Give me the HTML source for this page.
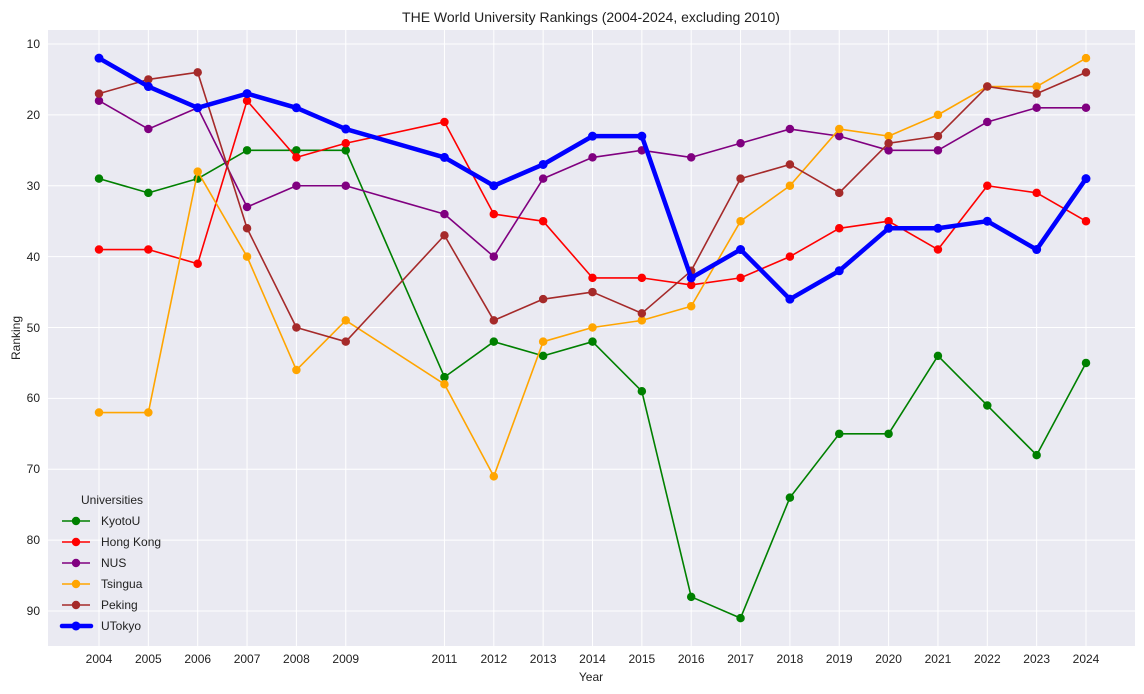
<!DOCTYPE html>
<html><head><meta charset="utf-8"><style>
html,body{margin:0;padding:0;background:#fff;}
svg{display:block;font-family:"Liberation Sans","DejaVu Sans",sans-serif;}
</style></head><body>
<svg width="1144" height="694" viewBox="0 0 1144 694" xmlns="http://www.w3.org/2000/svg">
<rect x="48" y="30" width="1087" height="616" fill="#eaeaf2"/>
<g stroke="#fff" stroke-width="1">
<line x1="99" y1="30" x2="99" y2="646"/><line x1="148.35" y1="30" x2="148.35" y2="646"/><line x1="197.7" y1="30" x2="197.7" y2="646"/><line x1="247.05" y1="30" x2="247.05" y2="646"/><line x1="296.4" y1="30" x2="296.4" y2="646"/><line x1="345.75" y1="30" x2="345.75" y2="646"/><line x1="444.45" y1="30" x2="444.45" y2="646"/><line x1="493.8" y1="30" x2="493.8" y2="646"/><line x1="543.15" y1="30" x2="543.15" y2="646"/><line x1="592.5" y1="30" x2="592.5" y2="646"/><line x1="641.85" y1="30" x2="641.85" y2="646"/><line x1="691.2" y1="30" x2="691.2" y2="646"/><line x1="740.55" y1="30" x2="740.55" y2="646"/><line x1="789.9" y1="30" x2="789.9" y2="646"/><line x1="839.25" y1="30" x2="839.25" y2="646"/><line x1="888.6" y1="30" x2="888.6" y2="646"/><line x1="937.95" y1="30" x2="937.95" y2="646"/><line x1="987.3" y1="30" x2="987.3" y2="646"/><line x1="1036.65" y1="30" x2="1036.65" y2="646"/><line x1="1086" y1="30" x2="1086" y2="646"/>
<line x1="48" y1="44" x2="1135" y2="44"/><line x1="48" y1="114.9" x2="1135" y2="114.9"/><line x1="48" y1="185.8" x2="1135" y2="185.8"/><line x1="48" y1="256.6" x2="1135" y2="256.6"/><line x1="48" y1="327.5" x2="1135" y2="327.5"/><line x1="48" y1="398.4" x2="1135" y2="398.4"/><line x1="48" y1="469.3" x2="1135" y2="469.3"/><line x1="48" y1="540.1" x2="1135" y2="540.1"/><line x1="48" y1="611" x2="1135" y2="611"/>
</g>
<g font-size="12" fill="#222" text-anchor="end">
<text x="40" y="48">10</text><text x="40" y="119">20</text><text x="40" y="190">30</text><text x="40" y="261">40</text><text x="40" y="332">50</text><text x="40" y="402">60</text><text x="40" y="473">70</text><text x="40" y="544">80</text><text x="40" y="615">90</text>
</g>
<g font-size="12" fill="#222" text-anchor="middle">
<text x="99" y="663">2004</text><text x="148.35" y="663">2005</text><text x="197.7" y="663">2006</text><text x="247.05" y="663">2007</text><text x="296.4" y="663">2008</text><text x="345.75" y="663">2009</text><text x="444.45" y="663">2011</text><text x="493.8" y="663">2012</text><text x="543.15" y="663">2013</text><text x="592.5" y="663">2014</text><text x="641.85" y="663">2015</text><text x="691.2" y="663">2016</text><text x="740.55" y="663">2017</text><text x="789.9" y="663">2018</text><text x="839.25" y="663">2019</text><text x="888.6" y="663">2020</text><text x="937.95" y="663">2021</text><text x="987.3" y="663">2022</text><text x="1036.65" y="663">2023</text><text x="1086" y="663">2024</text>
<text x="591" y="681" font-size="12">Year</text>
<text x="591" y="22" font-size="14">THE World University Rankings (2004-2024, excluding 2010)</text>
<text transform="translate(20,338) rotate(-90)" font-size="12">Ranking</text>
</g>
<g transform="translate(99,44) scale(49.35,7.0875)" fill="none" stroke-linejoin="round">
<g stroke="green">
<polyline vector-effect="non-scaling-stroke" stroke-width="1.6" points="0,19 1,21 2,19 3,15 4,15 5,15 7,47 8,42 9,44 10,42 11,49 12,78 13,81 14,64 15,55 16,55 17,44 18,51 19,58 20,45"/>
<path vector-effect="non-scaling-stroke" stroke-width="8.5" stroke-linecap="round" d="M0 19l0 0M1 21l0 0M2 19l0 0M3 15l0 0M4 15l0 0M5 15l0 0M7 47l0 0M8 42l0 0M9 44l0 0M10 42l0 0M11 49l0 0M12 78l0 0M13 81l0 0M14 64l0 0M15 55l0 0M16 55l0 0M17 44l0 0M18 51l0 0M19 58l0 0M20 45l0 0"/>
</g>
<g stroke="red">
<polyline vector-effect="non-scaling-stroke" stroke-width="1.6" points="0,29 1,29 2,31 3,8 4,16 5,14 7,11 8,24 9,25 10,33 11,33 12,34 13,33 14,30 15,26 16,25 17,29 18,20 19,21 20,25"/>
<path vector-effect="non-scaling-stroke" stroke-width="8.5" stroke-linecap="round" d="M0 29l0 0M1 29l0 0M2 31l0 0M3 8l0 0M4 16l0 0M5 14l0 0M7 11l0 0M8 24l0 0M9 25l0 0M10 33l0 0M11 33l0 0M12 34l0 0M13 33l0 0M14 30l0 0M15 26l0 0M16 25l0 0M17 29l0 0M18 20l0 0M19 21l0 0M20 25l0 0"/>
</g>
<g stroke="purple">
<polyline vector-effect="non-scaling-stroke" stroke-width="1.6" points="0,8 1,12 2,9 3,23 4,20 5,20 7,24 8,30 9,19 10,16 11,15 12,16 13,14 14,12 15,13 16,15 17,15 18,11 19,9 20,9"/>
<path vector-effect="non-scaling-stroke" stroke-width="8.5" stroke-linecap="round" d="M0 8l0 0M1 12l0 0M2 9l0 0M3 23l0 0M4 20l0 0M5 20l0 0M7 24l0 0M8 30l0 0M9 19l0 0M10 16l0 0M11 15l0 0M12 16l0 0M13 14l0 0M14 12l0 0M15 13l0 0M16 15l0 0M17 15l0 0M18 11l0 0M19 9l0 0M20 9l0 0"/>
</g>
<g stroke="orange">
<polyline vector-effect="non-scaling-stroke" stroke-width="1.6" points="0,52 1,52 2,18 3,30 4,46 5,39 7,48 8,61 9,42 10,40 11,39 12,37 13,25 14,20 15,12 16,13 17,10 18,6 19,6 20,2"/>
<path vector-effect="non-scaling-stroke" stroke-width="8.5" stroke-linecap="round" d="M0 52l0 0M1 52l0 0M2 18l0 0M3 30l0 0M4 46l0 0M5 39l0 0M7 48l0 0M8 61l0 0M9 42l0 0M10 40l0 0M11 39l0 0M12 37l0 0M13 25l0 0M14 20l0 0M15 12l0 0M16 13l0 0M17 10l0 0M18 6l0 0M19 6l0 0M20 2l0 0"/>
</g>
<g stroke="#a52a2a">
<polyline vector-effect="non-scaling-stroke" stroke-width="1.6" points="0,7 1,5 2,4 3,26 4,40 5,42 7,27 8,39 9,36 10,35 11,38 12,32 13,19 14,17 15,21 16,14 17,13 18,6 19,7 20,4"/>
<path vector-effect="non-scaling-stroke" stroke-width="8.5" stroke-linecap="round" d="M0 7l0 0M1 5l0 0M2 4l0 0M3 26l0 0M4 40l0 0M5 42l0 0M7 27l0 0M8 39l0 0M9 36l0 0M10 35l0 0M11 38l0 0M12 32l0 0M13 19l0 0M14 17l0 0M15 21l0 0M16 14l0 0M17 13l0 0M18 6l0 0M19 7l0 0M20 4l0 0"/>
</g>
<g stroke="blue">
<polyline vector-effect="non-scaling-stroke" stroke-width="4.5" points="0,2 1,6 2,9 3,7 4,9 5,12 7,16 8,20 9,17 10,13 11,13 12,33 13,29 14,36 15,32 16,26 17,26 18,25 19,29 20,19"/>
<path vector-effect="non-scaling-stroke" stroke-width="9" stroke-linecap="round" d="M0 2l0 0M1 6l0 0M2 9l0 0M3 7l0 0M4 9l0 0M5 12l0 0M7 16l0 0M8 20l0 0M9 17l0 0M10 13l0 0M11 13l0 0M12 33l0 0M13 29l0 0M14 36l0 0M15 32l0 0M16 26l0 0M17 26l0 0M18 25l0 0M19 29l0 0M20 19l0 0"/>
</g>
</g>
<g font-size="12" fill="#222">
<text x="81" y="504">Universities</text>
<line x1="62" y1="521" x2="90" y2="521" stroke="green" stroke-width="1.6"/><circle cx="76" cy="521" r="4.2" fill="green"/><text x="101" y="525">KyotoU</text>
<line x1="62" y1="542" x2="90" y2="542" stroke="red" stroke-width="1.6"/><circle cx="76" cy="542" r="4.2" fill="red"/><text x="101" y="546">Hong Kong</text>
<line x1="62" y1="563" x2="90" y2="563" stroke="purple" stroke-width="1.6"/><circle cx="76" cy="563" r="4.2" fill="purple"/><text x="101" y="567">NUS</text>
<line x1="62" y1="584" x2="90" y2="584" stroke="orange" stroke-width="1.6"/><circle cx="76" cy="584" r="4.2" fill="orange"/><text x="101" y="588">Tsingua</text>
<line x1="62" y1="605" x2="90" y2="605" stroke="#a52a2a" stroke-width="1.6"/><circle cx="76" cy="605" r="4.2" fill="#a52a2a"/><text x="101" y="609">Peking</text>
<line x1="62" y1="626" x2="91" y2="626" stroke="blue" stroke-width="4.5" stroke-linecap="round"/><circle cx="76" cy="626" r="4.5" fill="blue"/><text x="101" y="630">UTokyo</text>
</g>
</svg>
</body></html>
